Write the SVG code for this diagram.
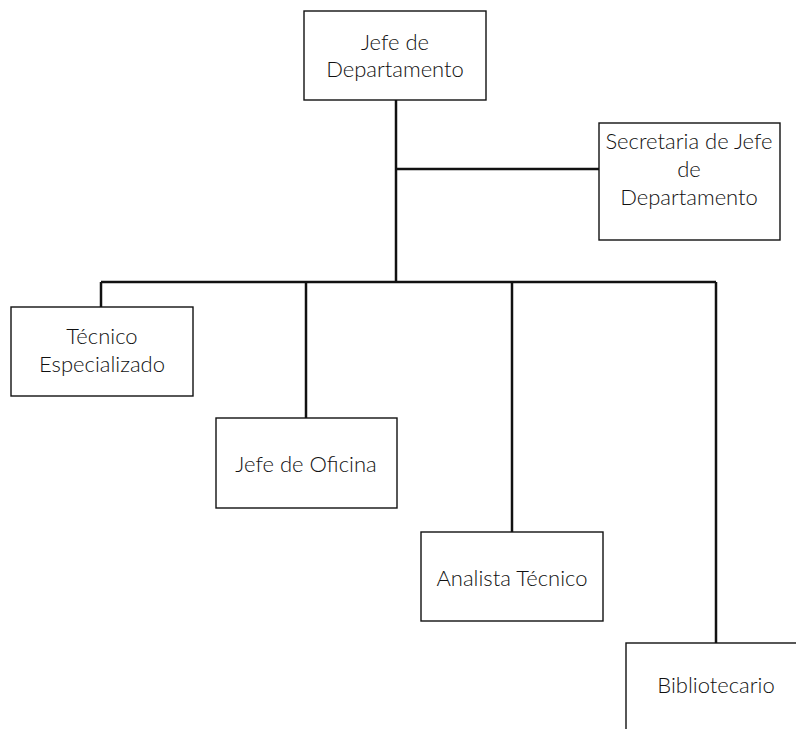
<svg xmlns="http://www.w3.org/2000/svg" width="796" height="729" viewBox="0 0 796 729">
<style>
.box{fill:#fff;stroke:#111;stroke-width:1.4}
.lbl{font-family:Lato,"Open Sans","Liberation Sans",sans-serif;font-size:22px;font-weight:300;fill:#111;text-anchor:middle}
.conn{stroke:#111;stroke-width:2.5;fill:none}
</style>
<rect width="796" height="729" fill="#fff"/>
<g id="connectors">
<path class="conn" d="M396 100V282"/>
<path class="conn" d="M396 169H599"/>
<path class="conn" d="M101 282H716"/>
<path class="conn" d="M101 282V307"/>
<path class="conn" d="M306 282V418"/>
<path class="conn" d="M512 282V532"/>
<path class="conn" d="M716 282V643"/>
</g>
<g id="jefe-departamento">
<rect class="box" x="304" y="11" width="182" height="89"/>
<text class="lbl" x="395" y="50">Jefe de</text>
<text class="lbl" x="395" y="77">Departamento</text>
</g>
<g id="secretaria">
<rect class="box" x="599" y="123" width="181" height="117"/>
<text class="lbl" x="689" y="149">Secretaria de Jefe</text>
<text class="lbl" x="689" y="177">de</text>
<text class="lbl" x="689" y="205">Departamento</text>
</g>
<g id="tecnico-especializado">
<rect class="box" x="11" y="307" width="182" height="89"/>
<text class="lbl" x="102" y="344">Técnico</text>
<text class="lbl" x="102" y="372">Especializado</text>
</g>
<g id="jefe-oficina">
<rect class="box" x="216" y="418" width="181" height="90"/>
<text class="lbl" x="306" y="472">Jefe de Oficina</text>
</g>
<g id="analista-tecnico">
<rect class="box" x="421" y="532" width="182" height="89"/>
<text class="lbl" x="512" y="586">Analista Técnico</text>
</g>
<g id="bibliotecario">
<rect class="box" x="626" y="643" width="200" height="120"/>
<text class="lbl" x="716" y="693">Bibliotecario</text>
</g>
</svg>
